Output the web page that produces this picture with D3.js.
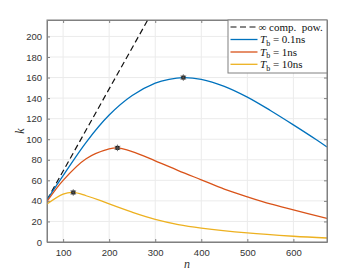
<!DOCTYPE html>
<html>
<head>
<meta charset="utf-8">
<script src="https://cdn.jsdelivr.net/npm/d3@7"></script>
<style>
  body { margin: 0; background: #fff; }
</style>
</head>
<body>
<div id="chart"></div>
<script>
// values
const nInf = [65, 290];
const kInf = [41, 221];

const nFast = [65, 100, 150, 200, 250, 300, 330, 361, 400, 450, 500, 550, 600, 650, 673];
const kFast = [41, 64.5, 97, 123.5, 142.5, 154.5, 158.3, 160, 158.3, 151.5, 141, 128, 114, 99.5, 92.5];

const nMid = [65, 100, 150, 200, 218, 250, 300, 350, 400, 450, 500, 550, 600, 673];
const kMid = [39.5, 60, 81, 90.5, 91.6, 88, 79, 69.5, 60.5, 51.5, 44, 37, 31.2, 23];

const nSlow = [65, 100, 122, 150, 180, 200, 250, 300, 350, 400, 500, 600, 673];
const kSlow = [36.9, 46.6, 48.2, 45, 40.5, 37, 29, 22, 17, 13.6, 8.8, 5.6, 3.9];

const peakN = [361, 218, 122];
const peakK = [160, 91.6, 48.2];

const xTicks = [100, 200, 300, 400, 500, 600];
const yTicks = [0, 20, 40, 60, 80, 100, 120, 140, 160, 180, 200];
const legendNames = ["0.1ns", "1ns", "10ns"];

const width = 362,
      height = 272,
      pLeft = 47, pRight = 327, pTop = 20, pBottom = 242;

const axisCol = "#808080",
      textCol = "#333",
      gridCol = "#ebebeb";

let svg = d3.select("#chart")
    .append("svg")
    .attr("width", width)
    .attr("height", height)
    .style("font-family", "'Liberation Sans', Arial, sans-serif");

let x = d3.scaleLinear().domain([65, 673]).range([pLeft, pRight]);
let y = d3.scaleLinear().domain([0, 216]).range([pBottom, pTop]);

svg.append("defs").append("clipPath")
    .attr("id", "plotclip")
  .append("rect")
    .attr("x", pLeft).attr("y", pTop)
    .attr("width", pRight - pLeft).attr("height", pBottom - pTop);

// grid
svg.append("g").selectAll("line")
    .data(xTicks)
    .enter().append("line")
    .attr("x1", d => x(d)).attr("x2", d => x(d))
    .attr("y1", pTop).attr("y2", pBottom)
    .style("stroke", gridCol).style("stroke-width", 1);

svg.append("g").selectAll("line")
    .data(yTicks)
    .enter().append("line")
    .attr("x1", pLeft).attr("x2", pRight)
    .attr("y1", d => y(d)).attr("y2", d => y(d))
    .style("stroke", gridCol).style("stroke-width", 1);

// axes, ticks pointing in, on all four sides
let axB = svg.append("g").attr("transform", `translate(0,${pBottom})`)
    .call(d3.axisBottom(x).tickValues(xTicks).tickSizeInner(-3).tickSizeOuter(0).tickPadding(7));
let axT = svg.append("g").attr("transform", `translate(0,${pTop})`)
    .call(d3.axisTop(x).tickValues(xTicks).tickSizeInner(-3).tickSizeOuter(0).tickFormat(""));
let axL = svg.append("g").attr("transform", `translate(${pLeft},0)`)
    .call(d3.axisLeft(y).tickValues(yTicks).tickSizeInner(-3).tickSizeOuter(0).tickPadding(5));
let axR = svg.append("g").attr("transform", `translate(${pRight},0)`)
    .call(d3.axisRight(y).tickValues(yTicks).tickSizeInner(-3).tickSizeOuter(0).tickFormat(""));

[axB, axT, axL, axR].forEach(a => {
  a.selectAll("path").style("stroke", axisCol);
  a.selectAll("line").style("stroke", axisCol);
  a.selectAll("text")
    .style("fill", textCol)
    .style("font-size", "9.5px")
    .style("font-family", "'Liberation Sans', Arial, sans-serif");
});

// curves
let line = d3.line()
    .x(d => x(d[0]))
    .y(d => y(d[1]))
    .curve(d3.curveCatmullRom.alpha(0.5));

const series = [
  {n: nFast, k: kFast, color: "#0072BD"},
  {n: nMid, k: kMid, color: "#D95319"},
  {n: nSlow, k: kSlow, color: "#EDB120"}
];

let plot = svg.append("g").attr("clip-path", "url(#plotclip)");

plot.append("path")
    .datum(d3.zip(nInf, kInf))
    .attr("d", d3.line().x(d => x(d[0])).y(d => y(d[1])))
    .style("fill", "none")
    .style("stroke", "#111")
    .style("stroke-width", 1.2)
    .style("stroke-dasharray", "6,3.5");

plot.selectAll(".curve")
    .data(series)
    .enter().append("path")
    .attr("class", "curve")
    .attr("d", d => line(d3.zip(d.n, d.k)))
    .style("fill", "none")
    .style("stroke", d => d.color)
    .style("stroke-width", 1.3);

// peak markers
let marks = svg.append("g").selectAll("g")
    .data(d3.zip(peakN, peakK))
    .enter().append("g")
    .attr("transform", d => `translate(${x(d[0])},${y(d[1])})`);

marks.append("rect")
    .attr("x", -2).attr("y", -2)
    .attr("width", 4).attr("height", 4)
    .style("fill", "#111");
marks.append("path")
    .attr("d", d3.symbol().type(d3.symbolAsterisk).size(30))
    .style("fill", "none")
    .style("stroke", "#555")
    .style("stroke-width", 0.8);

// box outline
svg.append("rect")
    .attr("x", pLeft).attr("y", pTop)
    .attr("width", pRight - pLeft).attr("height", pBottom - pTop)
    .style("fill", "none")
    .style("stroke", axisCol)
    .style("stroke-width", 1);

// axis labels
svg.append("text")
    .attr("x", (pLeft + pRight) / 2)
    .attr("y", 268)
    .attr("text-anchor", "middle")
    .style("font-family", "'Liberation Serif', 'DejaVu Serif', serif")
    .style("font-style", "italic")
    .style("font-size", "12px")
    .style("fill", textCol)
    .text("n");

svg.append("text")
    .attr("transform", `translate(24,${(pTop + pBottom) / 2}) rotate(-90)`)
    .attr("text-anchor", "middle")
    .style("font-family", "'Liberation Serif', 'DejaVu Serif', serif")
    .style("font-style", "italic")
    .style("font-size", "12px")
    .style("fill", textCol)
    .text("k");

// legend
let lg = svg.append("g");
lg.append("rect")
    .attr("x", 228).attr("y", pTop)
    .attr("width", pRight - 228).attr("height", 53)
    .style("fill", "#fff")
    .style("stroke", axisCol)
    .style("stroke-width", 1);

const rowY = [27, 39.5, 52, 64.3];
const legendFont = "'Liberation Serif', 'DejaVu Serif', serif";

lg.append("line")
    .attr("x1", 230.5).attr("x2", 257.5)
    .attr("y1", rowY[0]).attr("y2", rowY[0])
    .style("stroke", "#111").style("stroke-width", 1.2)
    .style("stroke-dasharray", "6,3.5");
lg.append("text")
    .attr("x", 258.5).attr("y", rowY[0] + 3.8)
    .style("font-family", legendFont)
    .style("font-size", "11px")
    .style("fill", "#111")
    .text("\u221E comp.\u00A0 pow.");

let rows = lg.selectAll(".row")
    .data(series)
    .enter().append("g")
    .attr("class", "row")
    .attr("transform", (d, i) => `translate(0,${rowY[i + 1]})`);

rows.append("line")
    .attr("x1", 230.5).attr("x2", 257.5)
    .attr("y1", 0).attr("y2", 0)
    .style("stroke", d => d.color)
    .style("stroke-width", 1.3);

let lt = rows.append("text")
    .attr("x", 260).attr("y", 3.8)
    .style("font-family", legendFont)
    .style("font-size", "11px")
    .style("fill", "#111");
lt.append("tspan").style("font-style", "italic").text("T");
lt.append("tspan").attr("dy", 2.5).style("font-size", "8px").text("b");
lt.append("tspan").attr("dy", -2.5).text((d, i) => " = " + legendNames[i]);
</script>
</body>
</html>
